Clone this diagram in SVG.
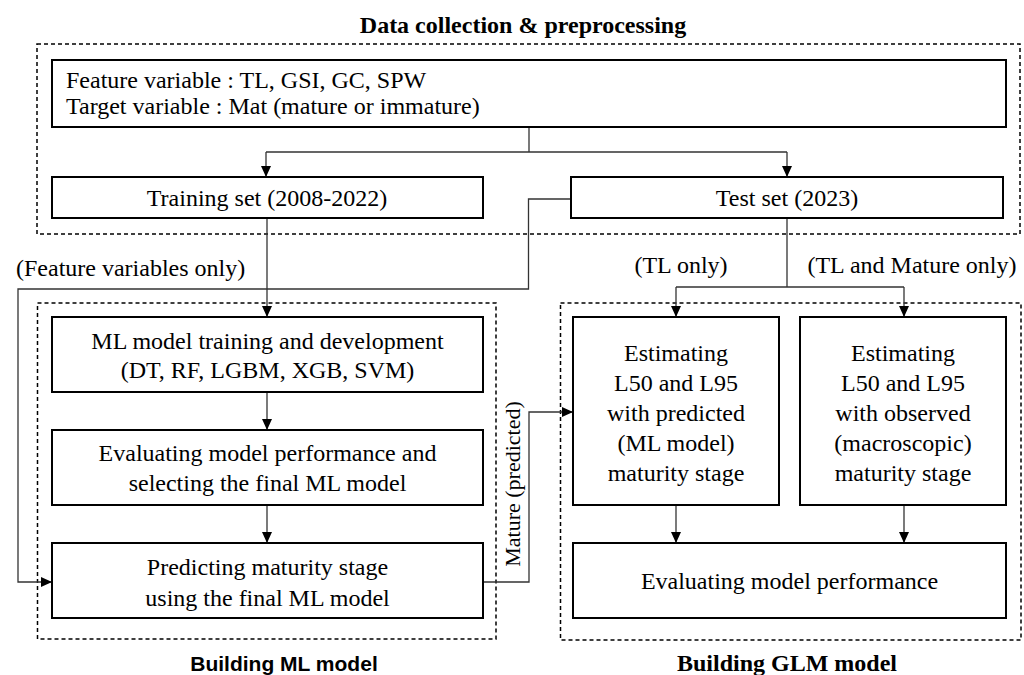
<svg xmlns="http://www.w3.org/2000/svg" width="1024" height="675" viewBox="0 0 1024 675">
<style>
  .t{font-family:"Liberation Serif","Times New Roman",serif;font-size:24px;fill:#000}
  .c{text-anchor:middle}
  .b{font-weight:bold}
  .box{fill:#fff;stroke:#000;stroke-width:2}
  .grp{fill:none;stroke:#000;stroke-width:1.5;stroke-dasharray:4 3}
  .ln{fill:none;stroke:#333;stroke-width:1.3}
  .s{font-family:"Liberation Sans",Arial,sans-serif;font-size:21px;font-weight:bold;text-anchor:middle}
</style>
<defs>
  <marker id="ah" markerUnits="userSpaceOnUse" markerWidth="12" markerHeight="10" refX="11" refY="5" orient="auto">
    <path d="M0,0 L11,5 L0,10 Z" fill="#000"/>
  </marker>
</defs>
<rect width="1024" height="675" fill="#fff"/>

<g id="group-data">
  <text class="t b c" x="523" y="33">Data collection &amp; preprocessing</text>
  <rect class="grp" x="37" y="44" width="983" height="190"/>
</g>
<g id="group-ml">
  <rect class="grp" x="37.5" y="303" width="458.5" height="336"/>
  <text class="s" x="284" y="671">Building ML model</text>
</g>
<g id="group-glm">
  <rect class="grp" x="560.5" y="303" width="460.5" height="337"/>
  <text class="t b c" x="787" y="671">Building GLM model</text>
</g>

<g id="connectors">
  <path class="ln" d="M529,127 V152 M266,152 H787"/>
  <path class="ln" d="M266,152 V177" marker-end="url(#ah)"/>
  <path class="ln" d="M787,152 V177" marker-end="url(#ah)"/>
  <path class="ln" d="M267,218 V317" marker-end="url(#ah)"/>
  <path class="ln" d="M571,199 H528.5 V289 H18 V582 H52" marker-end="url(#ah)"/>
  <path class="ln" d="M787,218 V287 M676,287 H904"/>
  <path class="ln" d="M676,287 V317" marker-end="url(#ah)"/>
  <path class="ln" d="M904,287 V317" marker-end="url(#ah)"/>
  <path class="ln" d="M267,392 V430" marker-end="url(#ah)"/>
  <path class="ln" d="M267,505 V543" marker-end="url(#ah)"/>
  <path class="ln" d="M483,582 H529 V412 H573" marker-end="url(#ah)"/>
  <path class="ln" d="M676,505 V543" marker-end="url(#ah)"/>
  <path class="ln" d="M904,505 V543" marker-end="url(#ah)"/>
  <text class="t" x="16" y="276">(Feature variables only)</text>
  <text class="t c" x="681" y="273">(TL only)</text>
  <text class="t c" x="912" y="273">(TL and Mature only)</text>
  <text class="t c" style="font-size:22px" transform="translate(520,484) rotate(-90)">Mature (predicted)</text>
</g>

<g id="node-features">
  <rect class="box" x="52" y="60" width="954" height="67"/>
  <text class="t" x="66" y="88">Feature variable : TL, GSI, GC, SPW</text>
  <text class="t" x="66" y="114">Target variable : Mat (mature or immature)</text>
</g>
<g id="node-training">
  <rect class="box" x="52" y="177" width="431" height="41"/>
  <text class="t c" x="267" y="206">Training set (2008-2022)</text>
</g>
<g id="node-test">
  <rect class="box" x="571" y="177" width="432" height="41"/>
  <text class="t c" x="787" y="206">Test set (2023)</text>
</g>
<g id="node-ml-train">
  <rect class="box" x="52" y="317" width="431" height="75"/>
  <text class="t c" x="267.5" y="349">ML model training and development</text>
  <text class="t c" x="267.5" y="378">(DT, RF, LGBM, XGB, SVM)</text>
</g>
<g id="node-ml-eval">
  <rect class="box" x="52" y="430" width="431" height="75"/>
  <text class="t c" x="267.5" y="461">Evaluating model performance and</text>
  <text class="t c" x="267.5" y="491">selecting the final ML model</text>
</g>
<g id="node-ml-predict">
  <rect class="box" x="52" y="543" width="431" height="75"/>
  <text class="t c" x="267.5" y="575">Predicting maturity stage</text>
  <text class="t c" x="267.5" y="606">using the final ML model</text>
</g>
<g id="node-est-pred">
  <rect class="box" x="573" y="317" width="206" height="188"/>
  <text class="t c" x="676" y="361">Estimating</text>
  <text class="t c" x="676" y="391">L50 and L95</text>
  <text class="t c" x="676" y="421">with predicted</text>
  <text class="t c" x="676" y="451">(ML model)</text>
  <text class="t c" x="676" y="481">maturity stage</text>
</g>
<g id="node-est-obs">
  <rect class="box" x="800" y="317" width="206" height="188"/>
  <text class="t c" x="903" y="361">Estimating</text>
  <text class="t c" x="903" y="391">L50 and L95</text>
  <text class="t c" x="903" y="421">with observed</text>
  <text class="t c" x="903" y="451">(macroscopic)</text>
  <text class="t c" x="903" y="481">maturity stage</text>
</g>
<g id="node-glm-eval">
  <rect class="box" x="573" y="543" width="433" height="75"/>
  <text class="t c" x="789.5" y="589">Evaluating model performance</text>
</g>
</svg>
